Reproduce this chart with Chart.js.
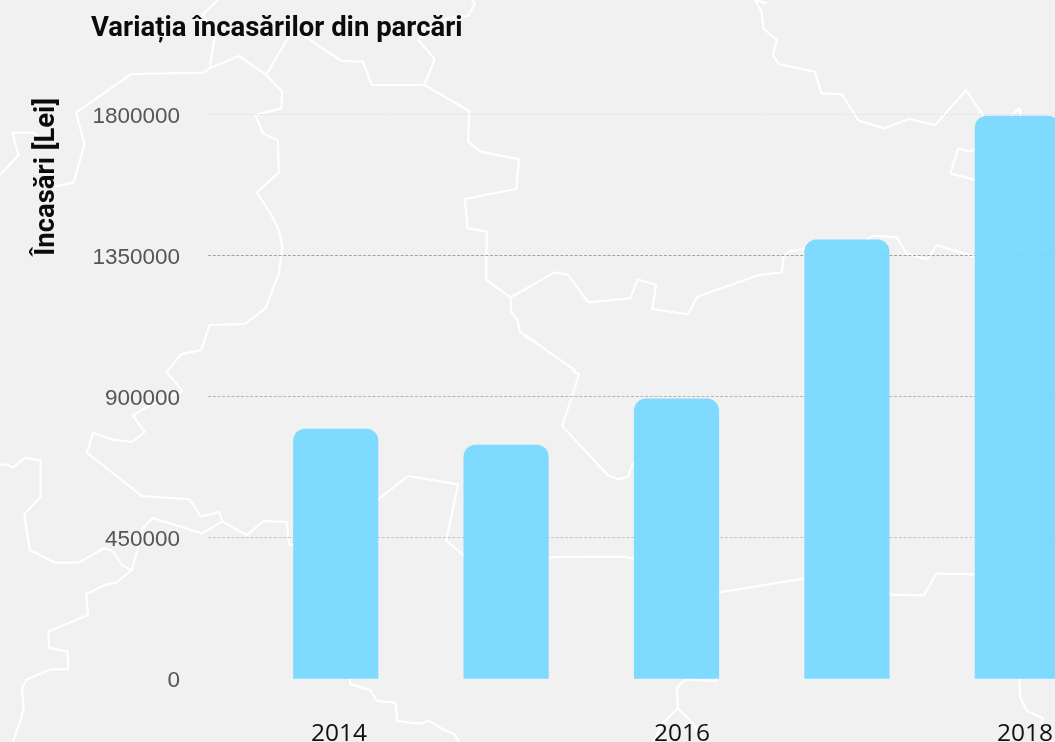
<!DOCTYPE html>
<html lang="ro">
<head>
<meta charset="utf-8">
<title>Variația încasărilor din parcări</title>
<script src="https://cdn.jsdelivr.net/npm/chart.js@4"></script>
<style>
    html, body { margin: 0; padding: 0; width: 1055px; height: 742px; overflow: hidden; background: #f1f1f1; }
    #map, #chart { position: absolute; left: 0; top: 0; }
    #map polyline { fill: none; stroke: #fff; stroke-width: 2.2; stroke-linejoin: round; vector-effect: non-scaling-stroke; }
</style>
</head>
<body>
<!-- county outlines behind the chart -->
<svg id="map" width="1055" height="742">
    <g transform="translate(0,0) scale(.33807,.33333)">
        <polyline points="645,0 600,42 635,110 620,205 603,218 388,222 225,338 250,432 218,548 160,560"/>
        <polyline points="0,525 55,465 37,398 100,398 125,420"/>
        <polyline points="620,205 707,168 787,225 835,275 832,325 755,345 778,400 822,422 825,517 760,578 800,640 825,690 835,740 825,820 785,925 725,972 620,975 595,1050 535,1063 495,1113"/>
        <polyline points="855,108 787,225"/>
        <polyline points="900,108 1010,183 1073,185 1100,255 1255,255 1285,180 1280,170 1237,120 1250,105 1320,55 1385,47 1405,10 1395,0"/>
        <polyline points="1255,255 1388,333 1385,425 1422,455 1535,478 1527,567 1375,597 1383,685 1440,695 1438,840 1510,892 1568,860"/>
        <polyline points="1510,892 1512,935 1530,960 1538,995 1568,1020"/>
    </g>
    <g transform="translate(525,0) scale(.33807,.33333)">
        <polyline points="0,868 87,817 127,824 187,907 312,895 333,838 388,855 376,927 482,943 510,890 690,825 760,817 765,770 780,755 830,745 860,760 885,815 960,785 950,760 1030,707 1100,712 1128,760 1190,778 1218,735 1330,770 1400,750 1460,725 1450,690 1380,650 1390,590 1480,575 1568,600"/>
        <polyline points="0,1005 150,1113"/>
        <polyline points="715,10 680,0 700,35 705,85 745,120 733,165 752,193 857,215 877,280 937,283 987,362 1063,385 1135,357 1213,375 1305,270 1357,350"/>
        <polyline points="1435,350 1462,325 1475,380 1455,425 1310,455 1282,445 1258,520 1390,555 1380,650"/>
    </g>
    <g transform="translate(0,371) scale(.33807,.33333)">
        <polyline points="490,0 540,60 440,105 393,133 428,183 390,213 328,205 275,185 257,245 420,375 560,385 595,437 648,423 658,452 597,487 452,441 420,475 408,530 390,597 343,635 315,640 255,670 260,732 143,782 145,830 200,842 202,895 150,895 120,908 80,925 65,950 70,1010 60,1050 38,1113"/>
        <polyline points="658,452 730,493 780,450 848,453 856,520 900,530 915,580 960,605 1060,625 1068,660 1040,740 1065,830 1030,865 1065,900 1035,925 1035,938 1095,958 1115,990 1170,995 1175,1050 1240,1058 1270,1050 1310,1075 1345,1090 1358,1113"/>
        <polyline points="870,525 945,510 950,430 1080,420 1118,385 1207,315 1355,340 1320,508 1370,552 1400,570 1568,610"/>
        <polyline points="0,280 25,282 38,290 75,260 120,268 120,377 72,430 88,537 163,575 233,575 308,532 333,540 360,582 390,597"/>
    </g>
    <g transform="translate(525,371) scale(.33807,.33333)">
        <polyline points="140,0 160,10 110,165 245,313 275,325 305,318 318,278 365,295 365,320 340,385 400,430 395,480 335,565 320,563 295,557 80,558 0,605"/>
        <polyline points="335,565 370,520 450,530 470,620 570,665 828,622 855,580 930,585 1025,625 1045,670 1180,673 1216,608 1332,610 1420,612 1568,590"/>
        <polyline points="570,665 555,800 565,930 475,925 450,950 452,1012 405,1060 380,1113"/>
        <polyline points="452,1012 495,1055 530,1113"/>
        <polyline points="1568,630 1480,640 1470,690 1395,710 1400,840 1462,925 1465,980 1485,1020 1530,1040 1530,1090 1560,1113"/>
    </g>
</svg>
<canvas id="chart" width="1055" height="742"></canvas>
<script>
// values
const years = [2014, 2015, 2016, 2017, 2018];
const incasari = [797000, 746000, 893000, 1400000, 1795000];
const yTickValues = [0, 450000, 900000, 1350000, 1800000];
const xTickValues = [2014, 2016, 2018];

const titleText = 'Variația încasărilor din parcări';
const yTitleText = 'Încasări [Lei]';

// the grid lines do not all look the same in the original
const gridColors = {
    0: 'rgba(0,0,0,0)',
    450000: '#c6c6c6',
    900000: '#b4b4b4',
    1350000: '#a2a2a2',
    1800000: '#e4e4e4'
};

// move the title to the left edge of the plot text
const titleLeft = {
    id: 'titleLeft',
    afterLayout(chart) {
        chart.titleBlock.left = 91;
    }
};

new Chart(document.getElementById('chart'), {
    type: 'bar',
    data: {
        datasets: [{
            data: years.map((year, i) => ({ x: year, y: incasari[i] })),
            xAxisID: 'x',
            backgroundColor: 'rgba(120, 216, 255, 0.95)',
            barThickness: 84.5,
            borderRadius: { topLeft: 12, topRight: 12, bottomLeft: 0, bottomRight: 0 },
            borderSkipped: false
        }]
    },
    plugins: [titleLeft],
    options: {
        responsive: false,
        animation: false,
        layout: { padding: { left: 31, right: 0, top: 0, bottom: 0 } },
        plugins: {
            legend: { display: false },
            tooltip: { enabled: false },
            title: {
                display: true,
                text: titleText,
                align: 'start',
                color: '#0b0b0b',
                font: { family: 'Roboto', size: 27.5, weight: 'bold', lineHeight: 1.2 },
                padding: { top: 12.5, bottom: 52.5 }
            }
        },
        scales: {
            // bars are placed on this one
            x: {
                type: 'linear',
                position: 'bottom',
                offset: false,
                min: 2013.2506,
                max: 2018.221,
                grid: { display: false },
                border: { display: false },
                ticks: { display: false },
                afterFit: scale => {
                    scale.height = 0;
                }
            },
            // year labels sit a little off the bar centres
            xLabels: {
                type: 'linear',
                position: 'bottom',
                offset: false,
                min: 2013.236,
                max: 2018.175,
                grid: { display: false },
                border: { display: false },
                afterBuildTicks: scale => {
                    scale.ticks = xTickValues.map(value => ({ value }));
                },
                afterFit: scale => {
                    scale.height = 63;
                    scale.paddingLeft = 0;
                    scale.paddingRight = 0;
                },
                ticks: {
                    color: '#111',
                    maxRotation: 0,
                    autoSkip: false,
                    padding: 35,
                    font: { family: 'Open Sans', size: 24.5, lineHeight: 1 },
                    callback: value => String(value)
                }
            },
            y: {
                type: 'linear',
                min: 0,
                max: 1852600,
                afterBuildTicks: scale => {
                    scale.ticks = yTickValues.map(value => ({ value }));
                },
                afterFit: scale => {
                    scale.width = 177;
                },
                grid: {
                    drawTicks: false,
                    lineWidth: 1,
                    color: ctx => gridColors[ctx.tick.value]
                },
                border: { display: false, dash: [3, 1.7] },
                ticks: {
                    color: '#555',
                    padding: 28,
                    labelOffset: 2,
                    font: { family: 'Liberation Sans', size: 22.5 },
                    callback: value => String(value)
                },
                title: {
                    display: true,
                    text: yTitleText,
                    align: 'end',
                    color: '#0b0b0b',
                    font: { family: 'Roboto', size: 27.5, weight: 'bold', lineHeight: 1.2 },
                    padding: 0
                }
            }
        }
    }
});
</script>
</body>
</html>
